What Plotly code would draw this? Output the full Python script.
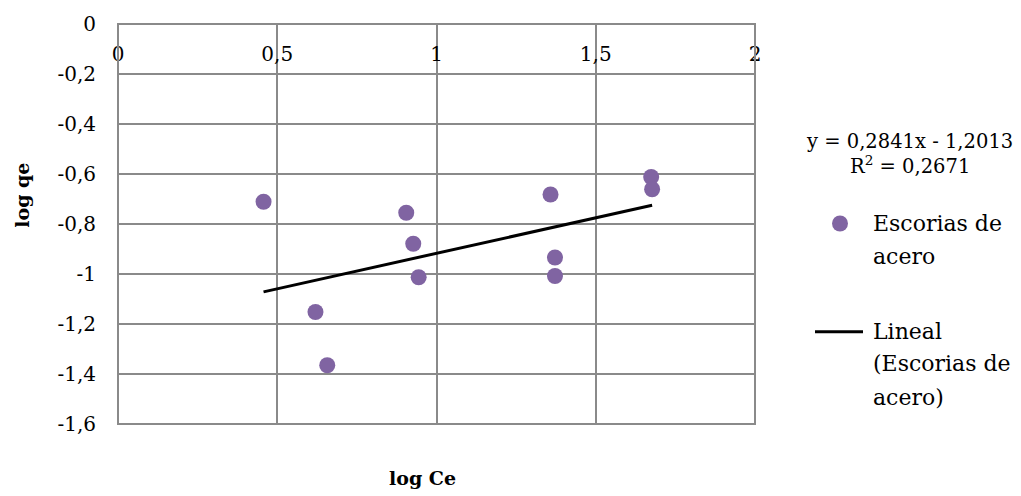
import plotly.graph_objects as go

# log Ce / log qe data for the steel slag adsorption points
log_ce = [0.457, 0.905, 0.927, 0.944, 0.620, 0.657, 1.358, 1.674, 1.677, 1.372, 1.372]
log_qe = [-0.711, -0.755, -0.879, -1.013, -1.152, -1.365, -0.682, -0.612, -0.661, -0.934, -1.008]

# Linear trend fitted in the spreadsheet
slope = 0.2841
intercept = -1.2013
r_squared = 0.2671

x_ticks = [0, 0.5, 1, 1.5, 2]
x_tick_text = ["0", "0,5", "1", "1,5", "2"]
y_ticks = [0, -0.2, -0.4, -0.6, -0.8, -1.0, -1.2, -1.4, -1.6]
y_tick_text = ["0", "-0,2", "-0,4", "-0,6", "-0,8", "-1", "-1,2", "-1,4", "-1,6"]

series_name = "Escorias de acero"
purple = "#8064A2"
grid = "#8A8A8A"
ink = "#000000"
font_family = "DejaVu Serif"

W, H = 1021, 496
L, R, T, B = 118, 266, 21, 72
plot_w = W - L - R
plot_h = H - T - B


def px(xp):
    return (xp - L) / plot_w


def py(yp):
    return (H - B - yp) / plot_h


trend_x = [min(log_ce), max(log_ce)]
trend_y = [slope * v + intercept for v in trend_x]

fig = go.Figure()
fig.add_trace(go.Scatter(
    x=trend_x, y=trend_y, mode="lines",
    line=dict(color="black", width=3), hoverinfo="skip",
))
fig.add_trace(go.Scatter(
    x=log_ce, y=log_qe, mode="markers",
    marker=dict(color=purple, size=16, line=dict(width=0)),
    name=series_name,
))

fig.update_xaxes(
    range=[0, 2], tickvals=x_ticks, ticktext=x_tick_text,
    showgrid=True, gridcolor=grid, gridwidth=1.5,
    zeroline=False, showline=False, ticks="",
    anchor="free", position=1, side="bottom",
    ticklabelstandoff=16,
    tickfont=dict(family=font_family, size=20, color=ink),
)
fig.update_yaxes(
    range=[-1.6, 0], tickvals=y_ticks, ticktext=y_tick_text,
    showgrid=True, gridcolor=grid, gridwidth=1.5,
    zeroline=False, showline=False, ticks="",
    ticklabelstandoff=21,
    tickfont=dict(family=font_family, size=20, color=ink),
)

# plot frame
fig.add_shape(type="rect", xref="x domain", yref="y domain",
              x0=0, x1=1, y0=0, y1=1, line=dict(color=grid, width=2))

# legend: marker entry and trendline entry
fig.add_shape(type="circle", xref="paper", yref="paper",
              xsizemode="pixel", ysizemode="pixel",
              xanchor=px(840), yanchor=py(222),
              x0=-8, x1=8, y0=-8, y1=8,
              fillcolor=purple, line=dict(width=0))
fig.add_shape(type="line", xref="paper", yref="paper",
              x0=px(815), x1=px(863), y0=py(331), y1=py(331),
              line=dict(color="black", width=3))

annotations = []


def text(xp, yp, s, size=22, xanchor="left", bold=False, angle=0):
    annotations.append(dict(
        x=px(xp), y=py(yp), xref="paper", yref="paper", text=s,
        showarrow=False, xanchor=xanchor, yanchor="middle", textangle=angle,
        font=dict(family=font_family, size=size, color=ink,
                  weight="bold" if bold else "normal"),
    ))


eq = f"y = {slope:.4f}x - {abs(intercept):.4f}".replace(".", ",")
r2 = f"R<sup>2</sup> = {r_squared:.4f}".replace(".", ",")
text(909, 139, eq, size=19.5, xanchor="center")
text(910, 163, r2, size=19.5, xanchor="center")
text(871, 222, "Escorias de")
text(871, 255, "acero")
text(871, 331, "Lineal")
text(871, 363, "(Escorias de")
text(871, 397, "acero)")

text(422, 478, "log Ce", size=19, xanchor="center", bold=True)
text(22, 194, "log qe", size=19, xanchor="center", bold=True, angle=-90)

fig.update_layout(
    width=W, height=H,
    margin=dict(l=L, r=R, t=T, b=B),
    paper_bgcolor="white", plot_bgcolor="white",
    showlegend=False,
    annotations=annotations,
)

fig.write_html("out.html")
